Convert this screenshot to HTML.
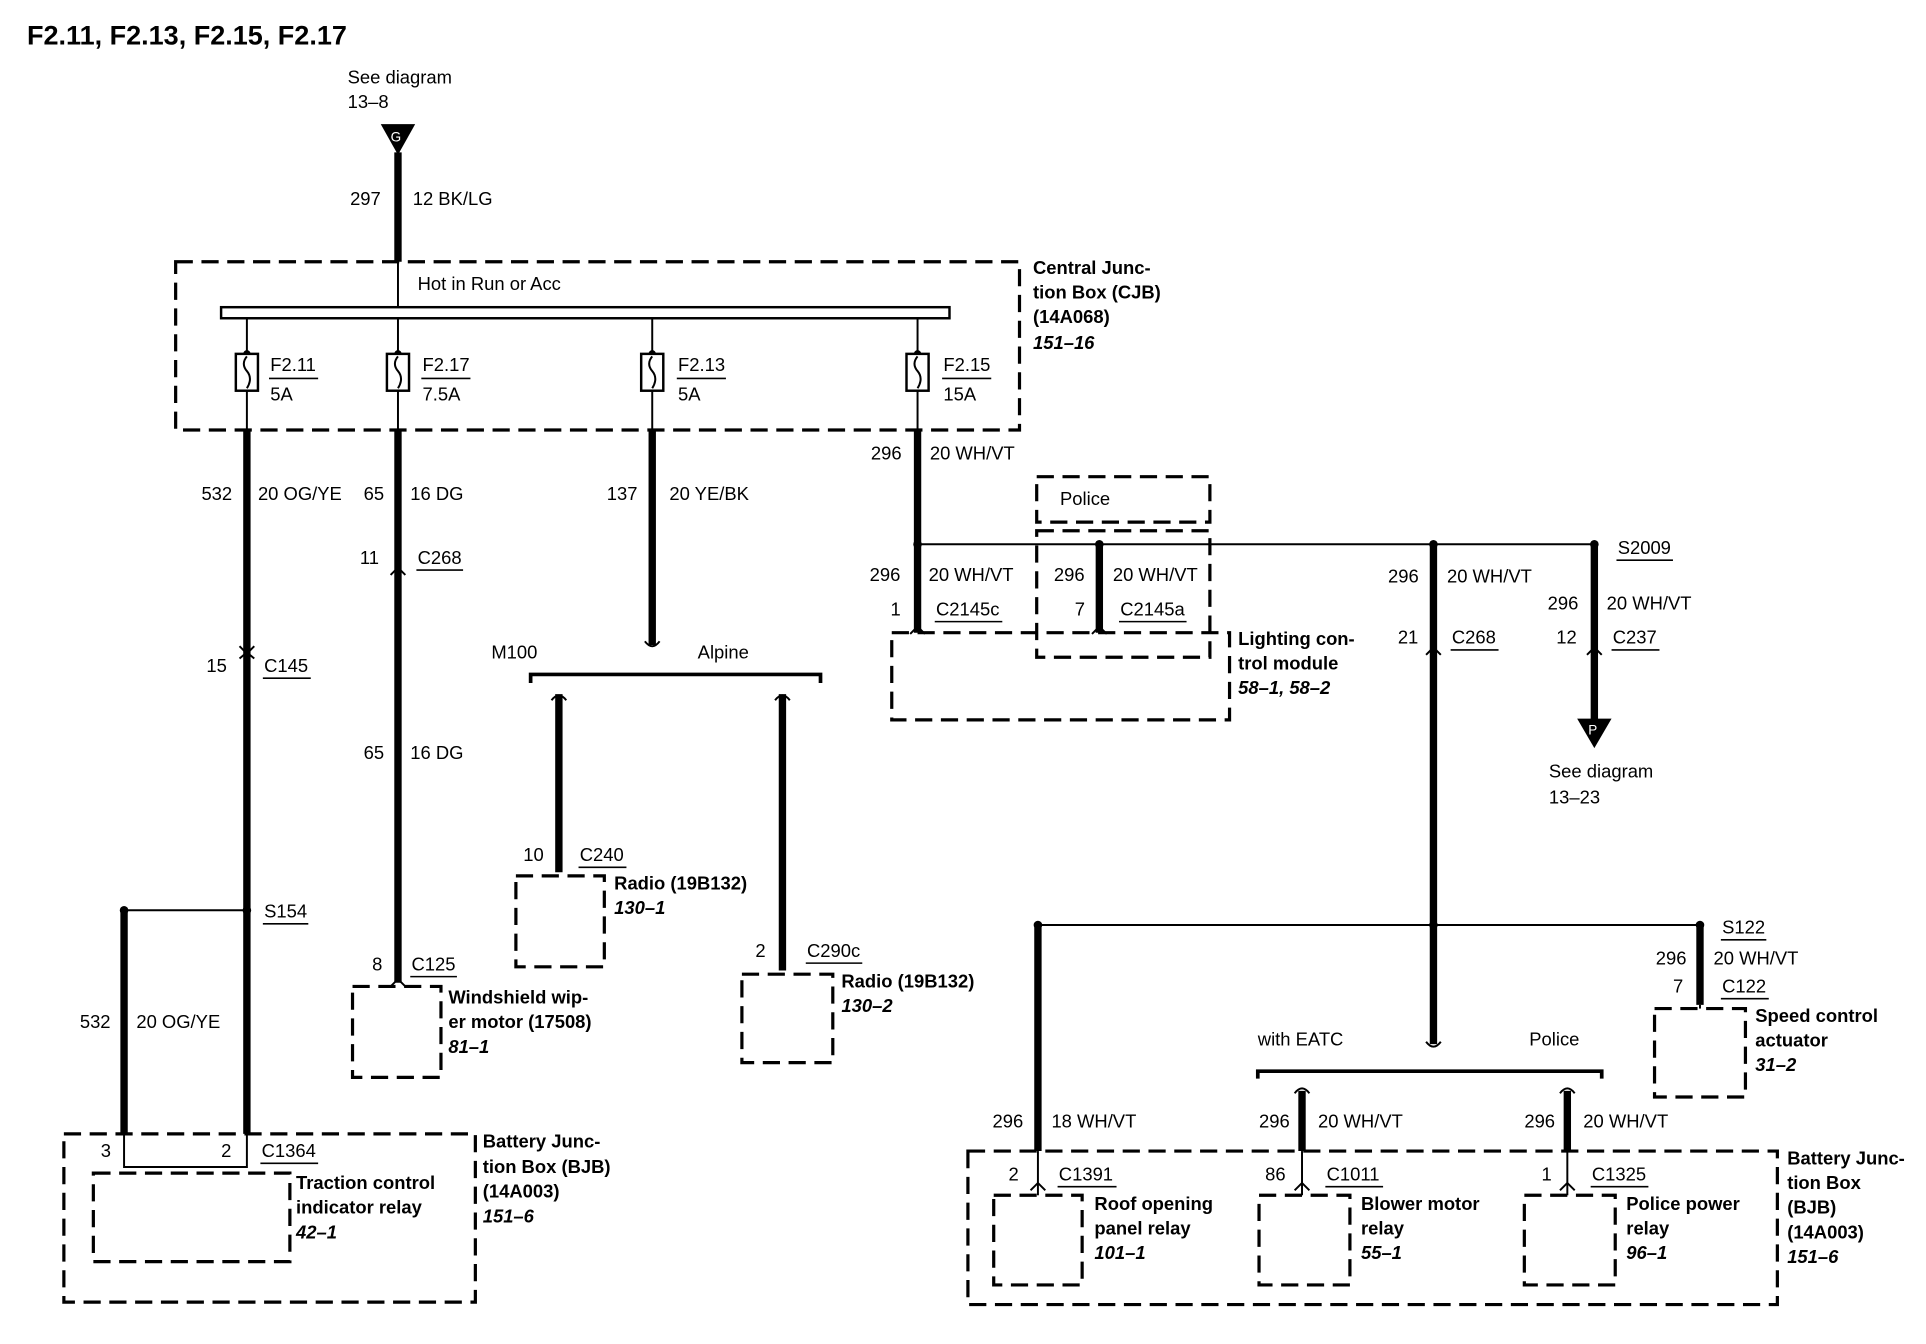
<!DOCTYPE html>
<html><head><meta charset="utf-8"><style>
html,body{margin:0;padding:0;background:#fff;}
svg{display:block;}
text{font-family:"Liberation Sans",sans-serif;font-size:15px;fill:#000;}
.b{font-weight:bold;}
.i{font-weight:bold;font-style:italic;}
.w{stroke:#000;stroke-width:6;fill:none;}
.t{stroke:#000;stroke-width:1.6;fill:none;}
.d{stroke:#000;stroke-width:2.6;fill:none;stroke-dasharray:14,7;}
.u{stroke:#000;stroke-width:1.3;}
</style></head><body>
<svg width="1926" height="1344" viewBox="0 0 1568 1094" xmlns="http://www.w3.org/2000/svg">
<text x="22" y="36" class="b" style="font-size:22px">F2.11, F2.13, F2.15, F2.17</text>
<text x="283" y="68">See diagram</text><text x="283" y="88">13–8</text>
<polygon points="310,101 338,101 324,126" fill="#000"/><text x="318" y="115" style="font-size:11px;fill:#fff">G</text>
<line class="w" x1="324" y1="124" x2="324" y2="213"/>
<text x="285" y="167">297</text><text x="336" y="167">12 BK/LG</text>
<!-- CJB -->
<rect class="d" x="143" y="213" width="687" height="137"/>
<line class="t" x1="324" y1="213" x2="324" y2="250"/>
<text x="340" y="236">Hot in Run or Acc</text>
<rect x="180" y="250" width="593" height="9" fill="#fff" stroke="#000" stroke-width="2"/>
<g>
<line class="t" x1="201" y1="259" x2="201" y2="350"/><circle cx="201" cy="288" r="3"/>
<rect x="192" y="288" width="18" height="30" fill="#fff" stroke="#000" stroke-width="2"/><path class="t" d="M201 290 q-5 6 0 12 q5 6 0 14"/>
<text x="220" y="302">F2.11</text><line class="u" x1="219" y1="308" x2="259" y2="308"/><text x="220" y="326">5A</text>
<line class="t" x1="324" y1="259" x2="324" y2="350"/><circle cx="324" cy="288" r="3"/>
<rect x="315" y="288" width="18" height="30" fill="#fff" stroke="#000" stroke-width="2"/><path class="t" d="M324 290 q-5 6 0 12 q5 6 0 14"/>
<text x="344" y="302">F2.17</text><line class="u" x1="343" y1="308" x2="383" y2="308"/><text x="344" y="326">7.5A</text>
<line class="t" x1="531" y1="259" x2="531" y2="350"/><circle cx="531" cy="288" r="3"/>
<rect x="522" y="288" width="18" height="30" fill="#fff" stroke="#000" stroke-width="2"/><path class="t" d="M531 290 q-5 6 0 12 q5 6 0 14"/>
<text x="552" y="302">F2.13</text><line class="u" x1="551" y1="308" x2="591" y2="308"/><text x="552" y="326">5A</text>
<line class="t" x1="747" y1="259" x2="747" y2="350"/><circle cx="747" cy="288" r="3"/>
<rect x="738" y="288" width="18" height="30" fill="#fff" stroke="#000" stroke-width="2"/><path class="t" d="M747 290 q-5 6 0 12 q5 6 0 14"/>
<text x="768" y="302">F2.15</text><line class="u" x1="767" y1="308" x2="807" y2="308"/><text x="768" y="326">15A</text>
</g>
<text x="841" y="223" class="b">Central Junc-</text><text x="841" y="243" class="b">tion Box (CJB)</text><text x="841" y="263" class="b">(14A068)</text><text x="841" y="284" class="i">151–16</text>
<!-- wire 201 -->
<line class="w" x1="201" y1="350" x2="201" y2="923"/>
<text x="164" y="407">532</text><text x="210" y="407">20 OG/YE</text>
<path class="t" d="M195 526 l6 6 l6 -6 M195 536 l6 -5 l6 5" stroke-width="2"/>
<text x="168" y="547">15</text><text x="215" y="547">C145</text><line class="u" x1="214" y1="552" x2="253" y2="552"/>
<circle cx="201" cy="741" r="3.5"/><text x="215" y="747">S154</text><line class="u" x1="214" y1="752" x2="251" y2="752"/>
<line class="t" x1="101" y1="741" x2="201" y2="741"/><circle cx="101" cy="741" r="3.5"/>
<line class="w" x1="101" y1="741" x2="101" y2="923"/>
<text x="65" y="837">532</text><text x="111" y="837">20 OG/YE</text>
<rect class="d" x="52" y="923" width="335" height="137"/>
<path class="t" d="M101 923 V950 H201 V923"/>
<rect class="d" x="76" y="955" width="160" height="72"/>
<text x="82" y="942">3</text><text x="180" y="942">2</text><text x="213" y="942">C1364</text><line class="u" x1="212" y1="947" x2="259" y2="947"/>
<text x="241" y="968" class="b">Traction control</text><text x="241" y="988" class="b">indicator relay</text><text x="241" y="1008" class="i">42–1</text>
<text x="393" y="934" class="b">Battery Junc-</text><text x="393" y="955" class="b">tion Box (BJB)</text><text x="393" y="975" class="b">(14A003)</text><text x="393" y="995" class="i">151–6</text>
<!-- wire 324 -->
<line class="w" x1="324" y1="350" x2="324" y2="800"/>
<text x="296" y="407">65</text><text x="334" y="407">16 DG</text>
<path class="t" d="M318 468 l6 -6 l6 6" stroke-width="2"/>
<text x="293" y="459">11</text><text x="340" y="459">C268</text><line class="u" x1="339" y1="464" x2="377" y2="464"/>
<text x="296" y="618">65</text><text x="334" y="618">16 DG</text>
<text x="303" y="790">8</text><text x="335" y="790">C125</text><line class="u" x1="334" y1="795" x2="372" y2="795"/>
<path class="t" d="M318 803 l6 -6 l6 6" stroke-width="2"/>
<rect class="d" x="287" y="803" width="72" height="74"/>
<text x="365" y="817" class="b">Windshield wip-</text><text x="365" y="837" class="b">er motor (17508)</text><text x="365" y="857" class="i">81–1</text>
<!-- wire 531 -->
<line class="w" x1="531" y1="350" x2="531" y2="525"/>
<text x="494" y="407">137</text><text x="545" y="407">20 YE/BK</text>
<path class="t" d="M525 522 q6 8 12 0" stroke-width="2"/>
<text x="400" y="536">M100</text><text x="568" y="536">Alpine</text>
<path d="M432 556 V549 H668 V556" stroke="#000" stroke-width="3" fill="none"/>
<line class="w" x1="455" y1="565" x2="455" y2="710"/><path class="t" d="M449 570 q6 -8 12 0" stroke-width="2"/>
<line class="w" x1="637" y1="565" x2="637" y2="790"/><path class="t" d="M631 570 q6 -8 12 0" stroke-width="2"/>
<text x="426" y="701">10</text><text x="472" y="701">C240</text><line class="u" x1="471" y1="706" x2="510" y2="706"/>
<rect class="d" x="420" y="713" width="72" height="74"/>
<text x="500" y="724" class="b">Radio (19B132)</text><text x="500" y="744" class="i">130–1</text>
<text x="615" y="779">2</text><text x="657" y="779">C290c</text><line class="u" x1="656" y1="784" x2="702" y2="784"/>
<rect class="d" x="604" y="793" width="74" height="72"/>
<text x="685" y="804" class="b">Radio (19B132)</text><text x="685" y="824" class="i">130–2</text>
<!-- wire 747 -->
<line class="w" x1="747" y1="350" x2="747" y2="515"/>
<text x="709" y="374">296</text><text x="757" y="374">20 WH/VT</text>
<line class="t" x1="747" y1="443" x2="1298" y2="443"/>
<circle cx="747" cy="443" r="3.5"/><circle cx="895" cy="443" r="3.5"/><circle cx="1167" cy="443" r="3.5"/><circle cx="1298" cy="443" r="3.5"/>
<rect class="d" x="844" y="388" width="141" height="37"/><text x="863" y="411">Police</text>
<rect class="d" x="844" y="432" width="141" height="103"/>
<line class="w" x1="895" y1="443" x2="895" y2="515"/>
<text x="708" y="473">296</text><text x="756" y="473">20 WH/VT</text><text x="725" y="501">1</text><text x="762" y="501">C2145c</text><line class="u" x1="761" y1="506" x2="816" y2="506"/>
<text x="858" y="473">296</text><text x="906" y="473">20 WH/VT</text><text x="875" y="501">7</text><text x="912" y="501">C2145a</text><line class="u" x1="911" y1="506" x2="966" y2="506"/>
<path class="t" d="M741 516 l6 -6 l6 6 M889 516 l6 -6 l6 6" stroke-width="2"/>
<rect class="d" x="726" y="515" width="275" height="71"/>
<text x="1008" y="525" class="b">Lighting con-</text><text x="1008" y="545" class="b">trol module</text><text x="1008" y="565" class="i">58–1, 58–2</text>
<!-- wire 1167 -->
<line class="w" x1="1167" y1="443" x2="1167" y2="850"/>
<text x="1130" y="474">296</text><text x="1178" y="474">20 WH/VT</text><text x="1138" y="524">21</text><text x="1182" y="524">C268</text><line class="u" x1="1181" y1="529" x2="1220" y2="529"/>
<path class="t" d="M1161 533 l6 -6 l6 6" stroke-width="2"/>
<path class="t" d="M1161 848 q6 8 12 0" stroke-width="2"/>
<line class="t" x1="845" y1="753" x2="1384" y2="753"/>
<circle cx="845" cy="753" r="3.5"/><circle cx="1167" cy="753" r="3.5"/><circle cx="1384" cy="753" r="3.5"/>
<text x="1024" y="851">with EATC</text><text x="1245" y="851">Police</text>
<path d="M1024 878 V872 H1304 V878" stroke="#000" stroke-width="3" fill="none"/>
<line class="w" x1="1060" y1="888" x2="1060" y2="937"/><path class="t" d="M1054 890 q6 -8 12 0" stroke-width="2"/>
<line class="w" x1="1276" y1="888" x2="1276" y2="937"/><path class="t" d="M1270 890 q6 -8 12 0" stroke-width="2"/>
<!-- wire 1298 -->
<line class="w" x1="1298" y1="443" x2="1298" y2="586"/>
<text x="1317" y="451">S2009</text><line class="u" x1="1316" y1="456" x2="1362" y2="456"/>
<text x="1260" y="496">296</text><text x="1308" y="496">20 WH/VT</text><text x="1267" y="524">12</text><text x="1313" y="524">C237</text><line class="u" x1="1312" y1="529" x2="1351" y2="529"/>
<path class="t" d="M1292 533 l6 -6 l6 6" stroke-width="2"/>
<polygon points="1284,585 1312,585 1298,609" fill="#000"/><text x="1293" y="598" style="font-size:11px;fill:#fff">P</text>
<text x="1261" y="633">See diagram</text><text x="1261" y="654">13–23</text>
<!-- wire 1384 -->
<line class="w" x1="1384" y1="753" x2="1384" y2="818"/>
<text x="1402" y="760">S122</text><line class="u" x1="1401" y1="765" x2="1438" y2="765"/>
<text x="1348" y="785">296</text><text x="1395" y="785">20 WH/VT</text><text x="1362" y="808">7</text><text x="1402" y="808">C122</text><line class="u" x1="1401" y1="813" x2="1440" y2="813"/>
<path class="t" d="M1384 818 V821" /><rect class="d" x="1347" y="821" width="74" height="72"/>
<text x="1429" y="832" class="b">Speed control</text><text x="1429" y="852" class="b">actuator</text><text x="1429" y="872" class="i">31–2</text>
<!-- wire 845 -->
<line class="w" x1="845" y1="753" x2="845" y2="937"/>
<text x="808" y="918">296</text><text x="856" y="918">18 WH/VT</text>
<text x="1025" y="918">296</text><text x="1073" y="918">20 WH/VT</text>
<text x="1241" y="918">296</text><text x="1289" y="918">20 WH/VT</text>
<rect class="d" x="788" y="937" width="659" height="125"/>
<line class="t" x1="845" y1="937" x2="845" y2="973"/><line class="t" x1="1060" y1="937" x2="1060" y2="973"/><line class="t" x1="1276" y1="937" x2="1276" y2="973"/>
<path class="t" d="M839 969 l6 -6 l6 6 M1054 969 l6 -6 l6 6 M1270 969 l6 -6 l6 6" stroke-width="2"/>
<text x="821" y="961">2</text><text x="862" y="961">C1391</text><line class="u" x1="861" y1="966" x2="909" y2="966"/>
<rect class="d" x="809" y="973" width="72" height="73"/>
<text x="891" y="985" class="b">Roof opening</text><text x="891" y="1005" class="b">panel relay</text><text x="891" y="1025" class="i">101–1</text>
<text x="1030" y="961">86</text><text x="1080" y="961">C1011</text><line class="u" x1="1079" y1="966" x2="1126" y2="966"/>
<rect class="d" x="1025" y="973" width="74" height="73"/>
<text x="1108" y="985" class="b">Blower motor</text><text x="1108" y="1005" class="b">relay</text><text x="1108" y="1025" class="i">55–1</text>
<text x="1255" y="961">1</text><text x="1296" y="961">C1325</text><line class="u" x1="1295" y1="966" x2="1342" y2="966"/>
<rect class="d" x="1241" y="973" width="74" height="73"/>
<text x="1324" y="985" class="b">Police power</text><text x="1324" y="1005" class="b">relay</text><text x="1324" y="1025" class="i">96–1</text>
<text x="1455" y="948" class="b">Battery Junc-</text><text x="1455" y="968" class="b">tion Box</text><text x="1455" y="988" class="b">(BJB)</text><text x="1455" y="1008" class="b">(14A003)</text><text x="1455" y="1028" class="i">151–6</text>
</svg>
</body></html>
